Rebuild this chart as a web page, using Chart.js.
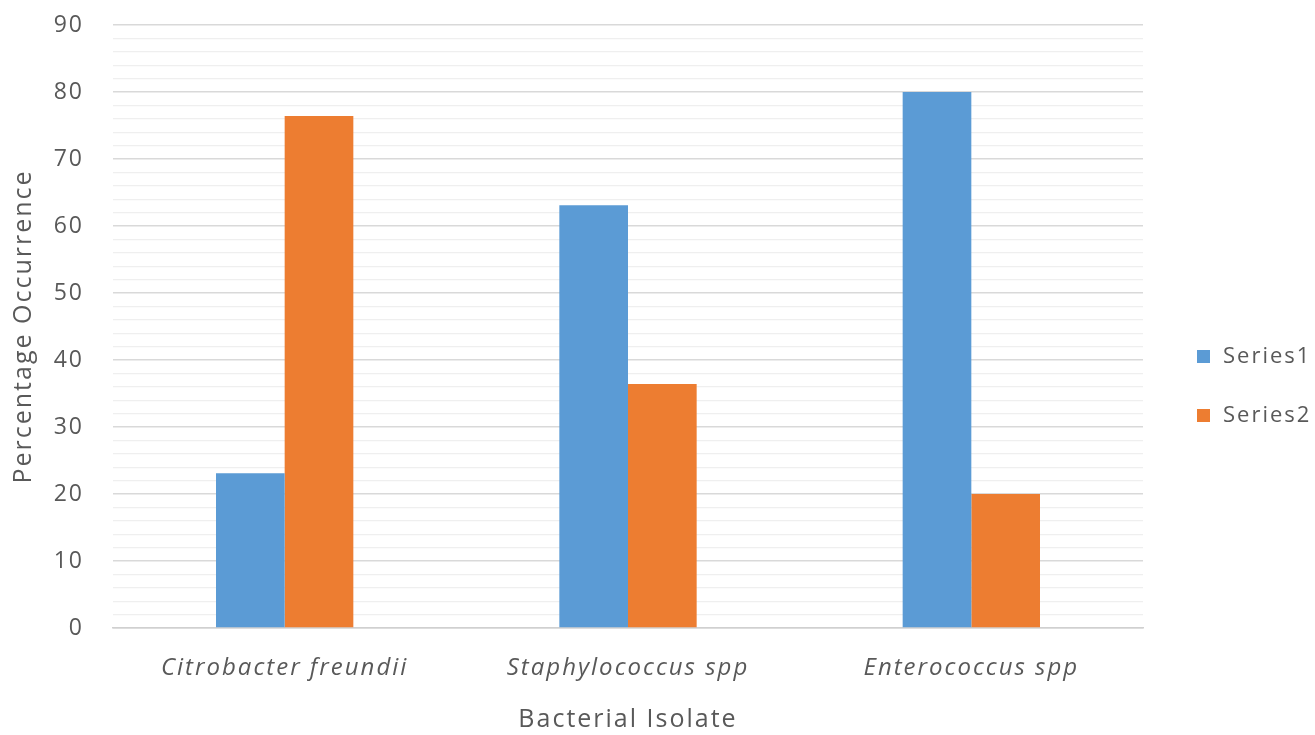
<!DOCTYPE html>
<html>
<head>
<meta charset="utf-8">
<script src="https://cdn.jsdelivr.net/npm/chart.js@4/dist/chart.umd.min.js"></script>
<style>
  html, body { margin: 0; padding: 0; background: #ffffff; }
  #wrap { width: 1315px; height: 735px; position: relative; }
</style>
</head>
<body>
<div id="wrap"><canvas id="chart" width="1315" height="735"></canvas></div>
<script>
// Bacterial isolates and percentage occurrence per series
const categories = ['Citrobacter freundii', 'Staphylococcus spp', 'Enterococcus spp'];
const seriesNames = ['Series1', 'Series2'];
const series1 = [23.1, 63.1, 80];
const series2 = [76.4, 36.4, 20];
const yMin = 0;
const yMax = 90;
const yStep = 2;

const textColor = '#595959';
const fontFamily = '"Open Sans", "DejaVu Sans", sans-serif';
const spacing = '2px';

// Wider letter spacing for all chart text (set before measuring and drawing)
const textSpacing = {
  id: 'textSpacing',
  beforeUpdate(chart) { chart.ctx.letterSpacing = spacing; },
  beforeLayout(chart) { chart.ctx.letterSpacing = spacing; },
  beforeDraw(chart) { chart.ctx.letterSpacing = spacing; }
};

// Legend drawn at the right of the plot, one row per dataset
const sideLegend = {
  id: 'sideLegend',
  afterDraw(chart) {
    const ctx = chart.ctx;
    const rows = [357, 416];
    ctx.save();
    ctx.letterSpacing = spacing;
    ctx.font = '22px ' + fontFamily;
    ctx.textBaseline = 'middle';
    ctx.textAlign = 'left';
    chart.data.datasets.forEach((ds, i) => {
      const y = rows[i];
      ctx.fillStyle = ds.backgroundColor;
      ctx.fillRect(1197, y - 7, 13, 13);
      ctx.fillStyle = textColor;
      ctx.fillText(ds.label, 1223, y);
    });
    ctx.restore();
  }
};

new Chart(document.getElementById('chart'), {
  type: 'bar',
  data: {
    labels: categories,
    datasets: [
      { label: seriesNames[0], data: series1, backgroundColor: '#5b9bd5', borderWidth: 0 },
      { label: seriesNames[1], data: series2, backgroundColor: '#ed7d31', borderWidth: 0 }
    ]
  },
  options: {
    responsive: false,
    animation: false,
    layout: { padding: { top: 25, right: 172, bottom: 0, left: 0 } },
    datasets: { bar: { categoryPercentage: 0.4, barPercentage: 1.0 } },
    plugins: {
      legend: { display: false },
      tooltip: { enabled: false }
    },
    scales: {
      x: {
        grid: { display: false, drawTicks: false },
        border: { display: true, color: '#d0d0d0', width: 1.5 },
        ticks: {
          color: textColor,
          padding: 26,
          font: { family: fontFamily, size: 24, style: 'italic' }
        },
        title: {
          display: true,
          text: 'Bacterial Isolate',
          color: textColor,
          font: { family: fontFamily, size: 25 },
          padding: { top: 20, bottom: 0 }
        },
        afterFit(scale) { scale.height = 735 - 628; }
      },
      y: {
        min: yMin,
        max: yMax,
        grid: {
          drawTicks: false,
          color(ctx) {
            const v = ctx.tick ? ctx.tick.value : 0;
            return v % 10 === 0 ? '#d9d9d9' : '#efefef';
          },
          lineWidth(ctx) {
            const v = ctx.tick ? ctx.tick.value : 0;
            return v % 10 === 0 ? 1.5 : 1.2;
          }
        },
        border: { display: false },
        ticks: {
          stepSize: yStep,
          autoSkip: false,
          color: textColor,
          padding: 29,
          font: { family: fontFamily, size: 23 },
          callback(value) { return value % 10 === 0 ? String(value) : ''; }
        },
        title: {
          display: true,
          text: 'Percentage Occurrence',
          color: textColor,
          font: { family: fontFamily, size: 25 },
          padding: { top: 9, bottom: 0 }
        },
        afterFit(scale) {
          scale.width = 113;
          scale.paddingTop = 0;
          scale.paddingBottom = 0;
        }
      }
    }
  },
  plugins: [textSpacing, sideLegend]
});
</script>
</body>
</html>
